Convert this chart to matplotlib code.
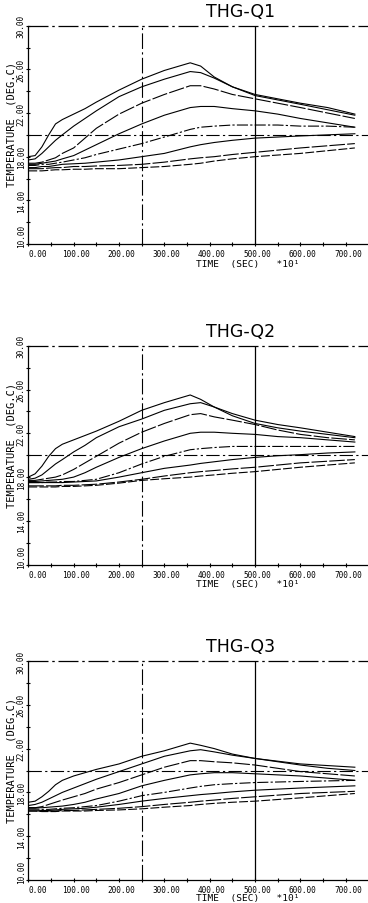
import matplotlib
matplotlib.use("Agg")
import matplotlib.pyplot as plt
from matplotlib.ticker import MultipleLocator, FixedLocator, NullFormatter

# ---------------- data ----------------
titles = ["THG-Q1", "THG-Q2", "THG-Q3"]
time_x10s = [0, 15, 30, 45, 60, 75, 100, 125, 150, 200, 250, 300, 357, 380, 410, 450, 500, 550, 600, 660, 720]

q1_c1 = [18.0, 18.1, 18.9, 20.0, 21.0, 21.4, 21.9, 22.4, 23.0, 24.1, 25.1, 25.9, 26.6, 26.3, 25.3, 24.4, 23.7, 23.3, 22.9, 22.5, 21.9]
q1_c2 = [17.7, 17.8, 18.3, 18.9, 19.5, 20.0, 20.8, 21.5, 22.2, 23.5, 24.4, 25.1, 25.8, 25.7, 25.2, 24.4, 23.6, 23.2, 22.8, 22.3, 21.8]
q1_c3 = [17.4, 17.4, 17.5, 17.7, 17.9, 18.3, 18.8, 19.7, 20.6, 21.9, 22.9, 23.7, 24.5, 24.5, 24.2, 23.7, 23.3, 22.9, 22.5, 22.0, 21.5]
q1_c4 = [17.3, 17.3, 17.4, 17.5, 17.6, 17.8, 18.1, 18.6, 19.1, 20.1, 21.0, 21.8, 22.5, 22.6, 22.6, 22.4, 22.2, 21.9, 21.5, 21.1, 20.7]
q1_c5 = [17.2, 17.2, 17.3, 17.3, 17.4, 17.5, 17.7, 17.9, 18.2, 18.7, 19.2, 19.8, 20.5, 20.7, 20.8, 20.9, 20.9, 20.9, 20.8, 20.8, 20.7]
q1_c6 = [17.0, 17.0, 17.1, 17.1, 17.2, 17.3, 17.35, 17.4, 17.5, 17.7, 18.0, 18.3, 18.9, 19.1, 19.3, 19.5, 19.7, 19.8, 19.9, 20.0, 20.1]
q1_c7 = [16.9, 16.9, 16.9, 16.95, 17.0, 17.0, 17.1, 17.1, 17.15, 17.2, 17.3, 17.5, 17.8, 17.9, 18.0, 18.2, 18.4, 18.6, 18.8, 19.0, 19.2]
q1_c8 = [16.7, 16.7, 16.7, 16.75, 16.8, 16.8, 16.85, 16.85, 16.9, 16.9, 17.0, 17.1, 17.3, 17.4, 17.6, 17.8, 18.0, 18.15, 18.3, 18.55, 18.8]

q2_c1 = [18.0, 18.3, 19.0, 19.9, 20.6, 21.0, 21.4, 21.8, 22.2, 23.1, 24.1, 24.8, 25.5, 25.1, 24.4, 23.8, 23.2, 22.8, 22.5, 22.1, 21.7]
q2_c2 = [17.8, 17.9, 18.2, 18.7, 19.2, 19.6, 20.3, 20.9, 21.6, 22.6, 23.3, 24.1, 24.7, 24.8, 24.4, 23.6, 22.9, 22.5, 22.2, 21.9, 21.6]
q2_c3 = [17.7, 17.7, 17.8, 17.9, 18.0, 18.2, 18.7, 19.3, 19.9, 21.1, 22.1, 22.9, 23.7, 23.8, 23.5, 23.2, 22.8, 22.3, 21.9, 21.6, 21.4]
q2_c4 = [17.6, 17.6, 17.65, 17.7, 17.75, 17.8, 18.0, 18.4, 18.9, 19.8, 20.6, 21.3, 22.0, 22.1, 22.1, 22.0, 21.9, 21.7, 21.6, 21.4, 21.2]
q2_c5 = [17.5, 17.5, 17.5, 17.55, 17.55, 17.6, 17.6, 17.7, 17.8, 18.4, 19.2, 19.9, 20.5, 20.6, 20.7, 20.8, 20.8, 20.8, 20.8, 20.8, 20.8]
q2_c6 = [17.5, 17.5, 17.5, 17.5, 17.5, 17.5, 17.55, 17.6, 17.65, 18.0, 18.4, 18.8, 19.1, 19.25, 19.4, 19.6, 19.8, 19.95, 20.05, 20.2, 20.3]
q2_c7 = [17.2, 17.2, 17.2, 17.2, 17.2, 17.25, 17.25, 17.3, 17.35, 17.55, 17.8, 18.1, 18.4, 18.5, 18.6, 18.75, 18.9, 19.1, 19.3, 19.45, 19.6]
q2_c8 = [17.1, 17.1, 17.1, 17.1, 17.1, 17.15, 17.15, 17.2, 17.25, 17.45, 17.7, 17.85, 18.0, 18.1, 18.2, 18.35, 18.5, 18.7, 18.9, 19.1, 19.3]

q3_c1 = [17.1, 17.2, 17.6, 18.1, 18.7, 19.1, 19.5, 19.8, 20.1, 20.6, 21.3, 21.8, 22.5, 22.3, 22.0, 21.5, 21.1, 20.85, 20.6, 20.45, 20.3]
q3_c2 = [16.8, 16.9, 17.1, 17.4, 17.7, 18.0, 18.4, 18.8, 19.2, 19.9, 20.6, 21.3, 21.8, 21.9, 21.7, 21.4, 21.1, 20.8, 20.5, 20.2, 20.0]
q3_c3 = [16.6, 16.6, 16.7, 16.9, 17.1, 17.3, 17.6, 17.9, 18.3, 18.9, 19.6, 20.3, 20.9, 20.9, 20.8, 20.7, 20.5, 20.2, 19.9, 19.7, 19.5]
q3_c4 = [16.6, 16.6, 16.6, 16.65, 16.7, 16.75, 16.9, 17.1, 17.4, 17.9, 18.6, 19.1, 19.6, 19.7, 19.8, 19.8, 19.7, 19.6, 19.5, 19.3, 19.1]
q3_c5 = [16.5, 16.5, 16.45, 16.45, 16.5, 16.55, 16.6, 16.7, 16.8, 17.2, 17.7, 18.0, 18.4, 18.55, 18.7, 18.8, 18.9, 18.95, 19.0, 19.05, 19.1]
q3_c6 = [16.4, 16.4, 16.35, 16.35, 16.4, 16.45, 16.5, 16.55, 16.65, 16.9, 17.2, 17.45, 17.7, 17.8, 17.9, 18.05, 18.2, 18.3, 18.4, 18.5, 18.6]
q3_c7 = [16.3, 16.3, 16.3, 16.3, 16.3, 16.35, 16.35, 16.4, 16.45, 16.55, 16.7, 16.9, 17.1, 17.2, 17.3, 17.45, 17.6, 17.75, 17.9, 18.0, 18.1]
q3_c8 = [16.3, 16.3, 16.25, 16.25, 16.25, 16.3, 16.3, 16.3, 16.35, 16.4, 16.5, 16.65, 16.8, 16.9, 17.0, 17.1, 17.2, 17.35, 17.5, 17.7, 17.9]

panels = [
    [q1_c1, q1_c2, q1_c3, q1_c4, q1_c5, q1_c6, q1_c7, q1_c8],
    [q2_c1, q2_c2, q2_c3, q2_c4, q2_c5, q2_c6, q2_c7, q2_c8],
    [q3_c1, q3_c2, q3_c3, q3_c4, q3_c5, q3_c6, q3_c7, q3_c8],
]

x_ticks = [0, 100, 200, 300, 400, 500, 600, 700]
y_ticks = [10, 14, 18, 22, 26, 30]
ref_x = [250, 500]
ref_y = 20
x_label = "TIME  (SEC)   *10¹"
y_label = "TEMPERATURE  (DEG.C)"

# ---------------- style ----------------
mono = "DejaVu Sans Mono"
curve_styles = ['-', '-', (0, (14, 2)), '-', (0, (10, 2, 2, 2)), '-', (0, (14, 2)), (0, (8, 2))]

fig = plt.figure(figsize=(3.68, 9.04), dpi=100)
W, H = 368.0, 904.0
axes_px = [(26.7, 245.0), (346.7, 565.7), (662.0, 881.0)]  # top, bottom in px
left_px = 28.3
xlabel_off = [-0.090, -0.088, -0.078]

for i, (title, curves) in enumerate(zip(titles, panels)):
    top, bot = axes_px[i]
    ax = fig.add_axes([left_px / W, 1 - bot / H, (W - left_px) / W, (bot - top) / H])
    ax.set_xlim(0, 749)
    ax.set_ylim(10, 30)

    for c, ls in zip(curves, curve_styles):
        ax.plot(time_x10s, c, color='black', lw=0.8, ls=ls)

    ax.axhline(ref_y, color='black', lw=0.8, ls=(0, (12, 3, 2, 3)))
    ax.axvline(ref_x[0], color='black', lw=0.8, ls=(0, (14, 3, 2, 3)))
    ax.axvline(ref_x[1], color='black', lw=0.9, ls='-')
    ax.axhline(30, color='black', lw=0.9, ls=(0, (16, 3, 2, 3)), clip_on=False)

    for s in ['top', 'right']:
        ax.spines[s].set_visible(False)
    for s in ['left', 'bottom']:
        ax.spines[s].set_linewidth(0.9)

    ax.xaxis.set_major_locator(FixedLocator(x_ticks))
    ax.xaxis.set_minor_locator(MultipleLocator(50))
    ax.yaxis.set_major_locator(FixedLocator(y_ticks))
    ax.yaxis.set_minor_locator(MultipleLocator(2))
    ax.xaxis.set_major_formatter(NullFormatter())
    ax.yaxis.set_major_formatter(NullFormatter())
    ax.tick_params(axis='both', which='both', direction='inout', length=3, width=0.8)

    # tick labels drawn as text (positions follow the data scale)
    xt = ax.get_xaxis_transform()
    for v in x_ticks:
        if v == 0:
            ax.text(v + 1, -0.045, f"{v:.2f}", transform=xt, ha='left', va='center',
                    family=mono, fontsize=5.6)
        else:
            ax.text(v + 5, -0.045, f"{v:.2f}", transform=xt, ha='center', va='center',
                    family=mono, fontsize=5.6)
    yt = ax.get_yaxis_transform()
    for v in y_ticks:
        yy = v + 0.8 if v == y_ticks[0] else v
        ax.text(-0.021, yy, f"{v:.2f}", transform=yt, ha='center', va='center',
                rotation=90, family=mono, fontsize=5.6)

    ax.text(0.647, xlabel_off[i], x_label, transform=ax.transAxes, ha='center', va='center',
            family=mono, fontsize=6.8)
    ax.text(-0.05, 0.55, y_label, transform=ax.transAxes, ha='center', va='center',
            rotation=90, family=mono, fontsize=7.5)

    ax.text(0.626, 1.068, title, transform=ax.transAxes, ha='center', va='center',
            fontsize=12.5, family='DejaVu Sans')

fig.savefig("out.png", dpi=100)
